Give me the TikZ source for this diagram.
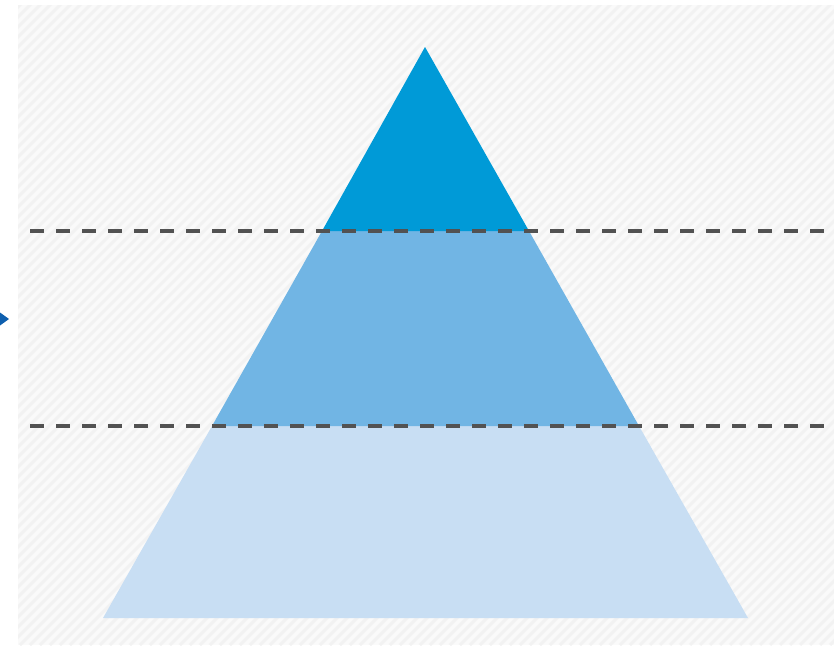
\documentclass[tikz,border=0pt]{standalone}
\begin{document}
\begin{tikzpicture}[x=1pt,y=-1pt,
  hatch/.style={draw=black!5, line width=3pt},
  dashline/.style={draw=black!68, line width=3.2pt, dash pattern=on 14pt off 12pt},
  band/.style={draw=none}]
\definecolor{topc}{HTML}{009AD7}
\definecolor{midc}{HTML}{71B5E4}
\definecolor{lowc}{HTML}{C8DEF3}
\definecolor{arrc}{HTML}{0E5FAE}
\definecolor{bgc}{HTML}{FAFAFA}
\useasboundingbox (0,0) rectangle (834,645);
\fill[white] (0,0) rectangle (834,645);
\begin{scope}
\clip (18,5) rectangle (834,645);
\fill[bgc] (18,5) rectangle (834,645);
\foreach \i in {-70,...,150} {
  \draw[hatch] (\i*10,645) -- ++(660,-660);
}
\end{scope}
% pyramid
\coordinate (apex) at (425,47);
\coordinate (l1) at (322,231);
\coordinate (r1) at (529,231);
\coordinate (l2) at (212,426);
\coordinate (r2) at (639,426);
\coordinate (bl) at (103,618);
\coordinate (br) at (748,618);
\fill[lowc] (l2) -- (r2) -- (br) -- (bl) -- cycle;
\fill[midc] (l1) -- (r1) -- (r2) -- (l2) -- cycle;
\fill[topc] (apex) -- (r1) -- (l1) -- cycle;
% dashed lines
\coordinate (d1a) at (30,231);
\coordinate (d1b) at (834,231);
\coordinate (d2a) at (30,426);
\coordinate (d2b) at (834,426);
\draw[dashline] (d1a) -- (d1b);
\draw[dashline] (d2a) -- (d2b);
% arrow tip
\coordinate (atip) at (9,319);
\fill[arrc] (atip) -- (0,312.5) -- (0,325.5) -- cycle;
\end{tikzpicture}
\end{document}
